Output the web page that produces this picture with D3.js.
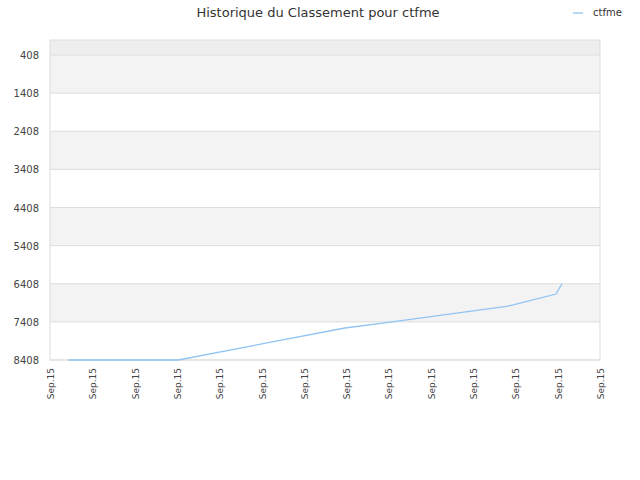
<!DOCTYPE html>
<html><head><meta charset="utf-8">
<script src="https://cdn.jsdelivr.net/npm/d3@7"></script>
<style>body{margin:0;background:#fff}</style>
</head><body>
<script>
var xTicks = ["Sep.15","Sep.15","Sep.15","Sep.15","Sep.15","Sep.15","Sep.15","Sep.15","Sep.15","Sep.15","Sep.15","Sep.15","Sep.15","Sep.15"];
var yTicks = [408, 1408, 2408, 3408, 4408, 5408, 6408, 7408, 8408];
// position in tick units, rank
var pos = [0.43, 3.03, 6.97, 8.04, 10.83, 11.96, 12.1];
var rank = [8408, 8408, 7569, 7412, 6993, 6678, 6408];

var svg = d3.select("body").append("svg").attr("width", 640).attr("height", 480)
  .style("font-family", "DejaVu Sans, sans-serif");
var L = 50, R = 600, T = 40, B = 360;
var x = d3.scaleLinear().domain([0, 13]).range([L, R]);
var y = d3.scaleLinear().domain([408, 8408]).range([55, B]);

svg.append("rect").attr("x", L).attr("y", T).attr("width", R - L).attr("height", y(408) - T).attr("fill", "#eeeeee");
for (var i = 0; i < yTicks.length - 1; i++) {
  svg.append("rect").attr("x", L).attr("y", y(yTicks[i])).attr("width", R - L)
    .attr("height", y(yTicks[i + 1]) - y(yTicks[i])).attr("fill", i % 2 == 0 ? "#f3f3f3" : "#ffffff");
}
yTicks.forEach(function(t) {
  svg.append("line").attr("x1", L).attr("x2", R).attr("y1", y(t)).attr("y2", y(t)).attr("stroke", "#dddddd");
  svg.append("text").attr("x", L - 11).attr("y", y(t) + 4).attr("text-anchor", "end")
    .attr("font-size", 10).attr("fill", "#444").text(t);
});
svg.append("rect").attr("x", L).attr("y", T).attr("width", R - L).attr("height", B - T)
  .attr("fill", "none").attr("stroke", "#dddddd");

xTicks.forEach(function(t, i) {
  var tx = x(i);
  svg.append("text").attr("transform", "translate(" + (tx + 4) + "," + (B + 8) + ") rotate(-90)")
    .attr("text-anchor", "end").attr("font-size", 9).attr("fill", "#444").text(t);
});

var line = d3.line().x(function(d) { return x(d[0]); }).y(function(d) { return y(d[1]); });
svg.append("path").datum(pos.map(function(p, i) { return [p, rank[i]]; }))
  .attr("d", line).attr("fill", "none").attr("stroke", "#90c4f4").attr("stroke-width", 1.3);

svg.append("text").attr("x", 318).attr("y", 17).attr("text-anchor", "middle")
  .attr("font-size", 13).attr("fill", "#333").text("Historique du Classement pour ctfme");
svg.append("line").attr("x1", 573).attr("x2", 583).attr("y1", 13).attr("y2", 13).attr("stroke", "#90c4f4").attr("stroke-width", 1.3);
svg.append("text").attr("x", 593).attr("y", 16).attr("font-size", 10).attr("fill", "#333").text("ctfme");
</script>
</body></html>
